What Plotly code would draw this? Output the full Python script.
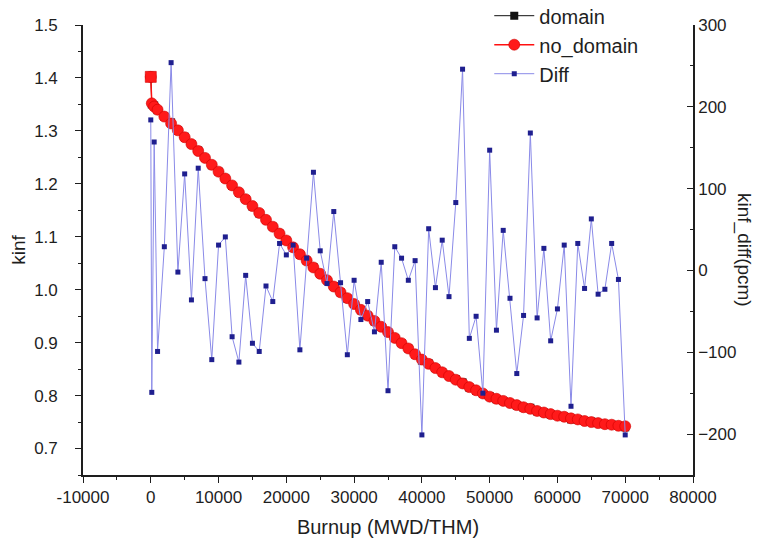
import plotly.graph_objects as go

# ---------------- data ----------------
burnup = [0, 150, 500, 1000, 2000, 3000, 4000, 5000, 6000, 7000, 8000, 9000,
          10000, 11000, 12000, 13000, 14000, 15000, 16000, 17000, 18000, 19000,
          20000, 21000, 22000, 23000, 24000, 25000, 26000, 27000, 28000, 29000,
          30000, 31000, 32000, 33000, 34000, 35000, 36000, 37000, 38000, 39000,
          40000, 41000, 42000, 43000, 44000, 45000, 46000, 47000, 48000, 49000,
          50000, 51000, 52000, 53000, 54000, 55000, 56000, 57000, 58000, 59000,
          60000, 61000, 62000, 63000, 64000, 65000, 66000, 67000, 68000, 69000,
          70000]

kinf_no_domain = [1.402, 1.352, 1.346, 1.340, 1.327, 1.314, 1.301, 1.288, 1.275, 1.262,
                  1.249, 1.236, 1.223, 1.210, 1.197, 1.184, 1.171, 1.158, 1.145, 1.132,
                  1.119, 1.106, 1.093, 1.080, 1.067, 1.055, 1.042, 1.030, 1.018, 1.006,
                  0.995, 0.984, 0.973, 0.962, 0.951, 0.941, 0.930, 0.920, 0.909, 0.899,
                  0.889, 0.878, 0.868, 0.860, 0.852, 0.844, 0.837, 0.830, 0.823, 0.816,
                  0.810, 0.804, 0.798, 0.794, 0.790, 0.786, 0.782, 0.778, 0.775, 0.771,
                  0.768, 0.765, 0.762, 0.760, 0.757, 0.755, 0.752, 0.750, 0.748, 0.746,
                  0.745, 0.743, 0.742]

kinf_domain = [1.404, 1.350, 1.348, 1.339, 1.327, 1.316, 1.301, 1.289, 1.275, 1.263,
               1.249, 1.235, 1.223, 1.210, 1.196, 1.183, 1.171, 1.157, 1.144, 1.132,
               1.119, 1.106, 1.093, 1.080, 1.066, 1.055, 1.043, 1.030, 1.018, 1.007,
               0.995, 0.983, 0.973, 0.961, 0.951, 0.940, 0.930, 0.919, 0.909, 0.899,
               0.889, 0.878, 0.866, 0.861, 0.852, 0.844, 0.837, 0.831, 0.825, 0.815,
               0.809, 0.803, 0.799, 0.793, 0.790, 0.786, 0.781, 0.777, 0.777, 0.770,
               0.768, 0.764, 0.762, 0.760, 0.755, 0.755, 0.752, 0.751, 0.748, 0.746,
               0.745, 0.743, 0.740]

diff_pcm = [184, -149, 157, -99, 29, 254, -2, 118, -36, 125, -10, -109,
            31, 41, -81, -112, -6, -89, -99, -19, -38, 33,
            19, 31, -97, 15, 120, 24, -16, 72, -15, -103,
            -12, -60, -38, -75, 10, -147, 29, 15, -12, 12,
            -201, 51, -21, 37, -32, 83, 246, -83, -56, -150,
            147, -73, 49, -34, -126, -55, 168, -58, 27, -86,
            -47, 31, -166, 33, -22, 63, -29, -23, 33, -11,
            -201]

x_ticks = [-10000, 0, 10000, 20000, 30000, 40000, 50000, 60000, 70000, 80000]
y_ticks = [0.7, 0.8, 0.9, 1.0, 1.1, 1.2, 1.3, 1.4, 1.5]
y2_ticks = [-200, -100, 0, 100, 200, 300]

# ---------------- figure ----------------
FONT = "Liberation Sans, Arial, sans-serif"
INK = "#1e1e1e"

fig = go.Figure()

fig.add_trace(go.Scatter(
    x=burnup, y=kinf_domain, name="domain", mode="lines+markers",
    line=dict(color="#111111", width=1),
    marker=dict(symbol="square", size=8, color="#111111"),
))

fig.add_trace(go.Scatter(
    x=burnup, y=kinf_no_domain, name="no_domain", mode="lines+markers",
    line=dict(color="#ff1010", width=1.5),
    marker=dict(symbol="circle", size=11,
                color="#ff1a1a", line=dict(color="#d00000", width=0.6)),
))

# first (Xe-free) point shows as a square in the reference
fig.add_trace(go.Scatter(
    x=burnup[:1], y=kinf_no_domain[:1], mode="markers", showlegend=False,
    marker=dict(symbol="square", size=11, color="#ff1a1a",
                line=dict(color="#d00000", width=0.6)),
))

fig.add_trace(go.Scatter(
    x=burnup, y=diff_pcm, name="Diff", mode="lines+markers", yaxis="y2",
    line=dict(color="#8a8ae8", width=1),
    marker=dict(symbol="square", size=5, color="#1f1f8f"),
))

axis_common = dict(
    showgrid=False, zeroline=False, showline=True, linecolor=INK, linewidth=1.6,
    ticks="outside", tickcolor=INK, tickwidth=1.4, ticklen=6,
    tickfont=dict(family=FONT, size=17, color=INK),
)

fig.update_layout(
    width=764, height=548,
    margin=dict(l=83, r=71, t=25, b=73, autoexpand=False),
    paper_bgcolor="white", plot_bgcolor="white",
    font=dict(family=FONT, color=INK),
    showlegend=True,
    legend=dict(x=0.666, y=1.064, xanchor="left", yanchor="top",
                bgcolor="rgba(0,0,0,0)", font=dict(family=FONT, size=20, color=INK),
                tracegroupgap=0, itemwidth=40),
    xaxis=dict(
        **axis_common,
        range=[-10000, 80000], tickvals=x_ticks,
        ticktext=[str(v) for v in x_ticks],
        minor=dict(dtick=5000, ticklen=3, ticks="outside", tickcolor=INK, tickwidth=1.2),
        title=dict(text="Burnup (MWD/THM)", font=dict(family=FONT, size=20, color=INK),
                   standoff=14),
    ),
    yaxis=dict(
        **axis_common,
        range=[0.65, 1.5], tickvals=y_ticks, tickformat=".1f",
        ticklabelstandoff=14,
        minor=dict(dtick=0.05, tick0=0.65, ticklen=3, ticks="outside", tickcolor=INK, tickwidth=1.2),
        title=dict(text="kinf", font=dict(family=FONT, size=19, color=INK), standoff=4),
    ),
    yaxis2=dict(
        showgrid=False, zeroline=False, showline=True, linecolor=INK, linewidth=1.6,
        ticks="inside", tickcolor=INK, tickwidth=1.4, ticklen=6,
        tickfont=dict(family=FONT, size=17, color=INK),
        overlaying="y", side="right", anchor="x",
        range=[-250, 300], tickvals=y2_ticks,
        minor=dict(dtick=50, tick0=-250, ticklen=3, ticks="inside", tickcolor=INK, tickwidth=1.2),
    ),
    annotations=[dict(
        text="kinf_diff(pcm)", textangle=90, xref="paper", yref="paper",
        x=1.0, xshift=64, y=0.5, showarrow=False,
        font=dict(family=FONT, size=19, color=INK),
    )],
)

fig.write_html("out.html")
